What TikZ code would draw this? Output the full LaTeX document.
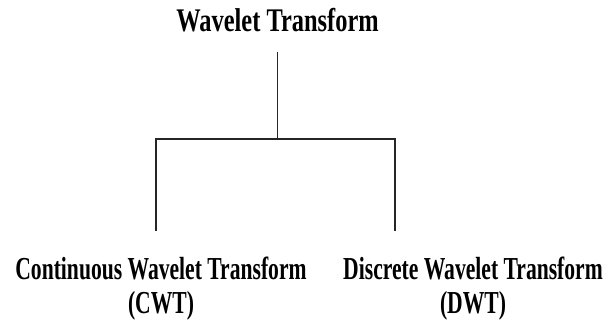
\documentclass[tikz,border=0pt]{standalone}
\usepackage{fontspec}
\newfontfamily\rootfont{Liberation Serif}[FakeStretch=0.74]
\newfontfamily\leaffont{Liberation Serif}[FakeStretch=0.675]
\usetikzlibrary{positioning}

\begin{document}
\begin{tikzpicture}[x=1pt, y=1pt,
    title/.style={inner sep=0pt, font=\rootfont\bfseries\fontsize{33}{40}\selectfont},
    leaf/.style={inner sep=0pt, align=center, font=\leaffont\bfseries\fontsize{32}{34}\selectfont},
    branch/.style={line width=1.3pt, black!85}]
            \useasboundingbox (0,0) rectangle (609,331);

            \node [title, anchor=base] (root) at (277.5,299.3) {Wavelet Transform};
            \node [leaf, anchor=north] (cwt) at (161,74) {Continuous Wavelet Transform\\(CWT)};
            \node [leaf, anchor=north] (dwt) at (473,74) {Discrete Wavelet Transform\\(DWT)};

            % the legs do not sit under the text centres
            \coordinate (split) at (277,192);
            \coordinate (cwtEnd) at (156,100);
            \coordinate (dwtEnd) at (395,100);

            \draw [branch, shorten <=20pt] (root.south) -- (root.south |- split);
            \draw [branch] (cwtEnd) -- (cwtEnd |- split) -- (dwtEnd |- split) -- (dwtEnd);
        \end{tikzpicture}
\end{document}
